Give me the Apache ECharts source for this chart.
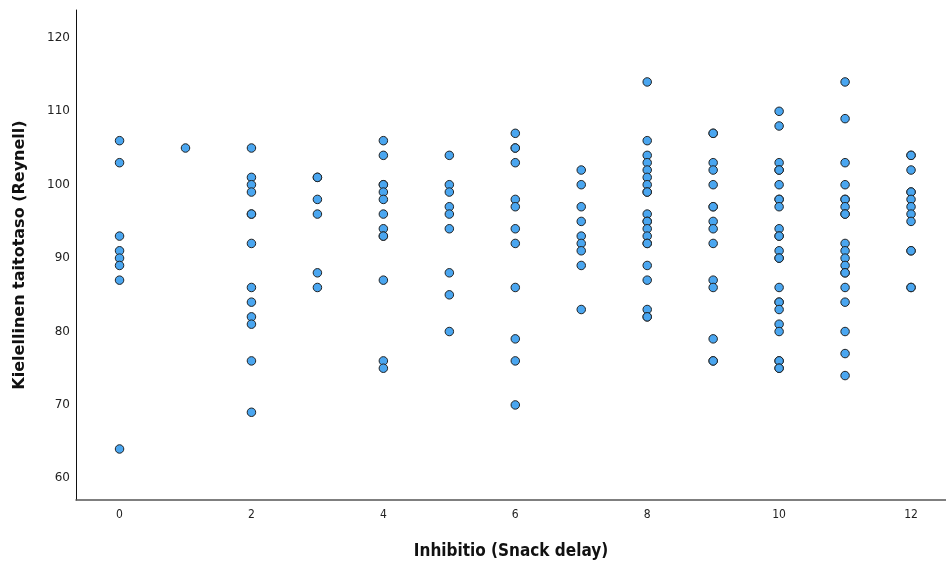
<!DOCTYPE html>
<html>
<head>
<meta charset="utf-8">
<script src="https://cdn.jsdelivr.net/npm/echarts@6/dist/echarts.min.js"></script>
<style>html,body{margin:0;padding:0;background:#fff;}#c{width:946px;height:565px;}</style>
</head>
<body>
<div id="c"></div>
<script>
const xTicks = [0, 2, 4, 6, 8, 10, 12];
const yTicks = [60, 70, 80, 90, 100, 110, 120];
const xTitle = 'Inhibitio (Snack delay)';
const yTitle = 'Kielellinen taitotaso (Reynell)';

const delay0 = [106, 103, 93, 91, 90, 89, 87, 64];
const delay1 = [105];
const delay2 = [105, 101, 100, 99, 96, 96, 92, 86, 84, 82, 81, 76, 69];
const delay3 = [101, 101, 98, 96, 88, 86];
const delay4 = [106, 104, 100, 100, 99, 98, 96, 94, 93, 93, 87, 76, 75];
const delay5 = [104, 100, 99, 97, 96, 94, 88, 85, 80];
const delay6 = [107, 105, 105, 103, 98, 97, 94, 92, 86, 79, 76, 70];
const delay7 = [102, 100, 97, 95, 93, 92, 91, 89, 83];
const delay8 = [114, 106, 104, 103, 102, 101, 100, 99, 99, 96, 95, 95, 94, 93, 92, 92, 89, 87, 83, 82, 82];
const delay9 = [107, 107, 103, 102, 100, 97, 97, 95, 94, 92, 87, 86, 79, 76, 76];
const delay10 = [110, 108, 103, 102, 102, 100, 98, 98, 97, 94, 93, 93, 91, 90, 90, 86, 84, 84, 83, 81, 80, 76, 76, 75, 75];
const delay11 = [114, 109, 103, 100, 98, 98, 97, 96, 96, 92, 91, 90, 89, 88, 88, 86, 84, 80, 77, 74];
const delay12 = [104, 104, 102, 99, 99, 98, 97, 96, 95, 91, 91, 86, 86];

const columns = [delay0, delay1, delay2, delay3, delay4, delay5, delay6, delay7, delay8, delay9, delay10, delay11, delay12];
const xValues = [0, 1, 2, 3, 4, 5, 6, 7, 8, 9, 10, 11, 12];

const points = [];
columns.forEach((col, i) => col.forEach(v => points.push([xValues[i], v])));

const chart = echarts.init(document.getElementById('c'), null, {renderer: 'canvas'});
chart.setOption({
  animation: false,
  backgroundColor: '#fff',
  grid: {left: 76, right: 0, top: 10, bottom: 57, containLabel: false},
  xAxis: {
    type: 'value',
    min: -0.66,
    max: 12.53,
    name: xTitle,
    nameLocation: 'middle',
    nameGap: 43,
    nameTextStyle: {fontFamily: 'DejaVu Sans Condensed, DejaVu Sans', fontWeight: 'bold', fontSize: 17, color: '#111'},
    axisLine: {show: true, onZero: false, lineStyle: {color: '#555', width: 1.5}},
    axisTick: {show: false},
    splitLine: {show: false},
    axisLabel: {customValues: xTicks, margin: 9, fontFamily: 'DejaVu Sans Condensed, DejaVu Sans', fontSize: 12, color: '#222'}
  },
  yAxis: {
    type: 'value',
    min: 57.05,
    max: 123.8,
    name: yTitle,
    nameLocation: 'middle',
    nameGap: 48,
    nameTextStyle: {fontFamily: 'DejaVu Sans', fontWeight: 'bold', fontSize: 16, color: '#111'},
    axisLine: {show: true, onZero: false, lineStyle: {color: '#111', width: 1}},
    axisTick: {show: false},
    splitLine: {show: false},
    axisLabel: {customValues: yTicks, margin: 6, fontFamily: 'DejaVu Sans', fontSize: 12, color: '#222'}
  },
  series: [{
    type: 'scatter',
    data: points,
    symbol: 'circle',
    symbolSize: 8.5,
    itemStyle: {color: '#4aa6f0', borderColor: '#222', borderWidth: 1, opacity: 1}
  }]
});
</script>
</body>
</html>
